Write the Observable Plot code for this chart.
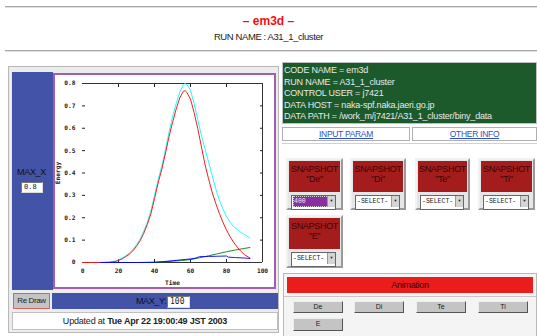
<!DOCTYPE html>
<html><head><meta charset="utf-8">
<script src="https://cdn.jsdelivr.net/npm/d3@7"></script>
<script src="https://cdn.jsdelivr.net/npm/@observablehq/plot@0.6"></script>
<style>
html,body{margin:0;padding:0;background:#fff;}
body{width:537px;height:336px;position:relative;overflow:hidden;font-family:"Liberation Sans",Arial,sans-serif;color:#222;}
.a{position:absolute;box-sizing:border-box;}
.hr{background:#a8a8a8;height:2px;border-bottom:1px solid #e0e0e0;}
.c{text-align:center;white-space:nowrap;}
.blue{background:#4253a8;}
.inp{background:#fff;border:1px solid #888;border-color:#777 #ddd #ddd #777;font-size:7px;line-height:9px;padding-left:2px;font-family:"DejaVu Sans Mono",monospace;}
.snap{border:2px solid;border-color:#f2f2f2 #9a9a9a #9a9a9a #f2f2f2;background:#e6e6e6;}
.red{background:#a41c1c;color:#3a0606;font-size:9px;line-height:10px;text-align:center;letter-spacing:-0.3px;padding-top:3px;}
.sel{background:#fff;border:1px solid #666;font-family:"Liberation Mono","DejaVu Sans Mono",monospace;font-size:6.5px;line-height:11px;padding-left:1px;color:#222;white-space:nowrap;overflow:hidden;}
.arr{position:absolute;right:0;top:0;width:7px;height:11px;background:#d4d4d4;border-left:1px solid #999;font-size:4px;line-height:11px;text-align:center;}
.btn{background:#c4c4c4;border:1px solid;border-color:#eee #555 #555 #eee;font-size:7px;line-height:10px;text-align:center;}
.tab{background:#fff;border:1px solid #b0b0b0;font-size:8.5px;line-height:12px;text-align:center;color:#3050c0;text-decoration:underline;letter-spacing:-0.3px;}
.gl{font-size:9px;line-height:11.6px;color:#e8e8e8;letter-spacing:-0.2px;white-space:nowrap;}
</style></head><body>
<div class="a hr" style="left:5px;top:6px;width:532px;"></div>
<div class="a c" style="left:0;top:14px;width:537px;color:#f01010;font-weight:bold;font-size:12px;">&ndash; em3d &ndash;</div>
<div class="a c" style="left:0;top:31px;width:537px;font-size:9.5px;letter-spacing:-0.4px;">RUN NAME : A31_1_cluster</div>
<div class="a hr" style="left:5px;top:50px;width:532px;"></div>

<!-- left panel -->
<div class="a" style="left:8px;top:66px;width:271px;height:267px;border:1px solid #b8b8b8;background:#ececec;"></div>
<div class="a blue" style="left:12px;top:72px;width:41px;height:218px;"></div>
<div class="a" style="left:17px;top:167px;font-size:9px;letter-spacing:-0.3px;color:#111;">MAX_X</div>
<div class="a inp" style="left:21px;top:182px;width:22px;height:11px;">0.8</div>
<div class="a" style="left:53px;top:73px;width:223px;height:216px;border:2px solid #a060b0;background:#fff;"></div>
<div id="chart" class="a" style="left:55px;top:75px;"></div>
<div class="a btn" style="left:13px;top:293px;width:37px;height:16px;border:1px solid #e06060;line-height:14px;font-size:8px;letter-spacing:-0.4px;">Re Draw</div>
<div class="a blue" style="left:52px;top:293px;width:226px;height:16px;"></div>
<div class="a" style="left:136px;top:296px;font-size:9px;letter-spacing:-0.4px;color:#111;">MAX_Y:</div>
<div class="a inp" style="left:167px;top:296px;width:23px;height:12px;font-size:8px;line-height:10px;">100</div>
<div class="a c" style="left:12px;top:312px;width:266px;height:18px;border:1px solid #c0c0c0;background:#fff;font-size:9px;line-height:16px;letter-spacing:-0.2px;">Updated at <b>Tue Apr 22 19:00:49 JST 2003</b></div>

<!-- right panel -->
<div class="a" style="left:282px;top:62px;width:255px;height:62px;background:#1d5a2b;border:1px solid #c0c0c0;padding:2px 0 0 1px;">
<div class="gl">CODE NAME = em3d</div>
<div class="gl">RUN NAME = A31_1_cluster</div>
<div class="gl">CONTROL USER = j7421</div>
<div class="gl">DATA HOST = naka-spf.naka.jaeri.go.jp</div>
<div class="gl">DATA PATH = /work_m/j7421/A31_1_cluster/biny_data</div>
</div>
<div class="a tab" style="left:282px;top:127px;width:128px;height:14px;">INPUT PARAM</div>
<div class="a tab" style="left:412px;top:127px;width:125px;height:14px;">OTHER INFO</div>
<div class="a" style="left:282px;top:143px;width:255px;height:1px;background:#d0d0d0;"></div>

<div class="a snap" style="left:286px;top:158px;width:57px;height:52px;"><div class="red" style="margin:1px;height:28px;">SNAPSHOT<br>"De"</div>
<div class="sel" style="position:relative;margin:3px 5px 0 3px;height:13px;"><span style="display:block;background:#8a2ea0;color:#eee;width:36px;height:11px;border:1px dotted #ccc;box-sizing:border-box;line-height:9px;">400</span><div class="arr">&#9660;</div></div></div>
<div class="a snap" style="left:350px;top:158px;width:56px;height:52px;"><div class="red" style="margin:1px;height:28px;">SNAPSHOT<br>"Di"</div>
<div class="sel" style="position:relative;margin:3px 4px 0 3px;height:13px;">-SELECT-<div class="arr">&#9660;</div></div></div>
<div class="a snap" style="left:415px;top:158px;width:55px;height:52px;"><div class="red" style="margin:1px;height:28px;">SNAPSHOT<br>"Te"</div>
<div class="sel" style="position:relative;margin:3px 4px 0 3px;height:13px;">-SELECT-<div class="arr">&#9660;</div></div></div>
<div class="a snap" style="left:478px;top:158px;width:57px;height:52px;"><div class="red" style="margin:1px;height:28px;">SNAPSHOT<br>"Ti"</div>
<div class="sel" style="position:relative;margin:3px 4px 0 3px;height:13px;">-SELECT-<div class="arr">&#9660;</div></div></div>
<div class="a snap" style="left:286px;top:215px;width:57px;height:53px;"><div class="red" style="margin:1px;height:28px;">SNAPSHOT<br>"E"</div>
<div class="sel" style="position:relative;margin:3px 5px 0 3px;height:13px;">-SELECT-<div class="arr">&#9660;</div></div></div>

<div class="a" style="left:283px;top:273px;width:254px;height:70px;border:1px solid #b8b8b8;background:#f4f4f4;"></div>
<div class="a c" style="left:287px;top:277px;width:246px;height:16px;background:#ea1c1c;font-size:9px;line-height:16px;color:#3a0606;letter-spacing:-0.3px;">Animation</div>
<div class="a" style="left:284px;top:296px;width:252px;height:1px;background:#c8c8c8;"></div>
<div class="a btn" style="left:293px;top:301px;width:50px;height:12px;">De</div>
<div class="a btn" style="left:354px;top:301px;width:50px;height:12px;">Di</div>
<div class="a btn" style="left:416px;top:301px;width:50px;height:12px;">Te</div>
<div class="a btn" style="left:478px;top:301px;width:50px;height:12px;">Ti</div>
<div class="a btn" style="left:293px;top:318px;width:50px;height:13px;">E</div>

<script>
const xTicks = [0, 20, 40, 60, 80, 100];
const yTicks = [0, 0.1, 0.2, 0.3, 0.4, 0.5, 0.6, 0.7, 0.8];
const innerXTicks = [20, 40, 60, 80];

const timeMain = [0,5,10,15,18,20,22,24,26,28,30,32,34,36,38,40,42,44,46,48,50,52,54,56,57,58,60,62,64,66,68,70,72,74,76,78,80,82,84,86,88,90,92,93];
const energyCyan = [0,0,0,0.002,0.006,0.012,0.02,0.03,0.042,0.058,0.08,0.105,0.14,0.18,0.23,0.3,0.37,0.43,0.5,0.58,0.65,0.71,0.76,0.795,0.8,0.795,0.77,0.71,0.64,0.57,0.51,0.45,0.39,0.33,0.28,0.24,0.205,0.18,0.16,0.148,0.135,0.125,0.115,0.11];
const energyRed = [0,0,0,0.001,0.004,0.009,0.016,0.026,0.037,0.052,0.073,0.097,0.13,0.17,0.218,0.285,0.355,0.415,0.485,0.56,0.625,0.685,0.735,0.765,0.768,0.76,0.73,0.67,0.6,0.52,0.44,0.375,0.315,0.265,0.22,0.18,0.145,0.115,0.09,0.068,0.05,0.035,0.025,0.02];
const timeGreen = [34,40,45,50,55,60,65,70,75,80,85,90,93];
const energyGreen = [0,0.001,0.003,0.006,0.009,0.013,0.021,0.03,0.039,0.048,0.056,0.063,0.067];
const timeBlue = [10,20,30,40,45,50,55,60,63,65,70,75,80,81,85,90,93];
const energyBlue = [0,0,0,0.001,0.004,0.008,0.012,0.016,0.02,0.026,0.027,0.028,0.029,0.024,0.022,0.02,0.018];

const series = [
  {name: "cyan", color: "#62cbe4", t: timeMain, e: energyCyan},
  {name: "red", color: "#f25050", t: timeMain, e: energyRed},
  {name: "green", color: "#8ccc4c", t: timeGreen, e: energyGreen},
  {name: "blue", color: "#4a58c4", t: timeBlue, e: energyBlue}
];
const rows = series.flatMap(s => s.t.map((t, i) => ({series: s.name, time: t, energy: s.e[i]})));

const fmtY = d => d === 0 ? "0" : d.toFixed(1);

const chart = Plot.plot({
  width: 219, height: 212,
  marginLeft: 27, marginRight: 12, marginTop: 8, marginBottom: 25,
  style: {fontFamily: "'DejaVu Sans Mono', monospace", fontSize: "6.2px", fontWeight: "bold", background: "white", color: "#222", overflow: "visible"},
  x: {domain: [0, 100]},
  y: {domain: [0, 0.8]},
  color: {domain: series.map(s => s.name), range: series.map(s => s.color)},
  marks: [
    Plot.ruleY([yTicks[yTicks.length - 1]], {stroke: "#333"}),
    Plot.ruleY([yTicks[0]], {stroke: "#333"}),
    Plot.ruleX([xTicks[xTicks.length - 1]], {stroke: "#333"}),
    Plot.axisX({anchor: "bottom", ticks: xTicks, tickSize: 0, tickPadding: 6, tickFormat: d => String(d), label: "Time", labelAnchor: "center", labelArrow: "none", labelOffset: 22}),
    Plot.axisX({anchor: "bottom", ticks: innerXTicks, tickSize: -3, tickFormat: () => "", label: null}),
    Plot.axisX({anchor: "top", ticks: innerXTicks, tickSize: -3, tickFormat: () => "", label: null}),
    Plot.axisY({anchor: "left", ticks: yTicks, tickSize: 0, tickPadding: 7, tickFormat: fmtY, label: "Energy", labelAnchor: "center", labelArrow: "none", labelOffset: 27}),
    Plot.axisY({anchor: "left", ticks: yTicks.slice(1, -1), tickSize: -3, tickFormat: () => "", label: null}),
    Plot.axisY({anchor: "right", ticks: yTicks.slice(1, -1), tickSize: -3, tickFormat: () => "", label: null}),
    Plot.line(rows, {x: "time", y: "energy", z: "series", stroke: "series", strokeWidth: 0.9})
  ]
});
document.getElementById("chart").appendChild(chart);
</script>
</body></html>
